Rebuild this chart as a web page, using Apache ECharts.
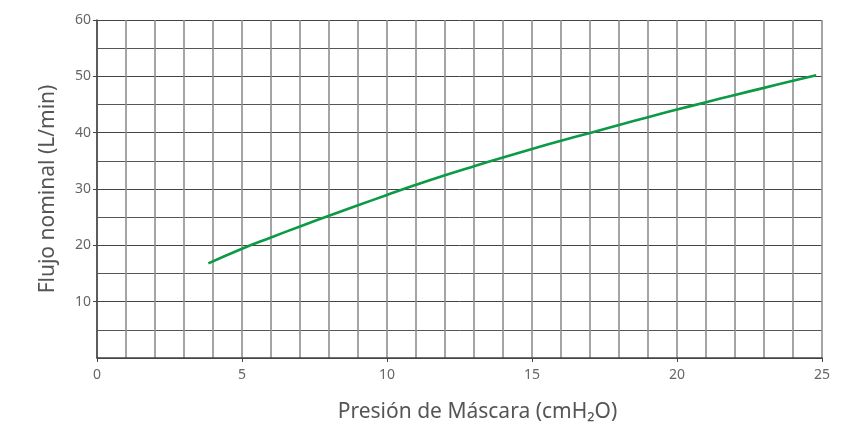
<!DOCTYPE html>
<html>
<head>
<meta charset="utf-8">
<script src="https://cdn.jsdelivr.net/npm/echarts@6/dist/echarts.min.js"></script>
<style>html,body{margin:0;padding:0;background:#fff}#c{width:863px;height:430px}</style>
</head>
<body>
<div id="c"></div>
<script>
const pressure = [3.84, 5, 6, 7, 8, 9, 10, 11, 12, 13, 14, 15, 16, 17, 18, 19, 20, 21, 22, 23, 24, 24.8];
const flow = [16.8, 19.4, 21.4, 23.35, 25.25, 27.1, 28.95, 30.75, 32.45, 34.05, 35.6, 37.1, 38.55, 39.95, 41.35, 42.75, 44.1, 45.4, 46.7, 47.95, 49.2, 50.2];
const xName = 'Presión de Máscara (cmH₂O)';
const yName = 'Flujo nominal (L/min)';

const chart = echarts.init(document.getElementById('c'));
chart.setOption({
  animation: false,
  grid: { left: 97, right: 41, top: 20, bottom: 72 },
  xAxis: {
    type: 'value', min: 0, max: 25, interval: 5,
    name: xName, nameLocation: 'middle', nameGap: 44,
    nameTextStyle: { fontFamily: 'Noto Sans', fontSize: 21, color: '#555', padding: [0, 0, 0, 36] },
    axisLine: { show: true, lineStyle: { color: '#444', width: 1.5 } },
    axisTick: { show: true, length: 4, lineStyle: { color: '#444' } },
    axisLabel: { margin: 10, fontFamily: 'Noto Sans', fontSize: 14, color: '#666' },
    splitLine: { show: true, lineStyle: { color: '#8f8f8f', width: 1.6 } },
    minorTick: { show: false, splitNumber: 5 },
    minorSplitLine: { show: true, lineStyle: { color: '#8f8f8f', width: 1.6 } }
  },
  yAxis: {
    type: 'value', min: 0, max: 60, interval: 10,
    name: yName, nameLocation: 'middle', nameGap: 38,
    nameTextStyle: { fontFamily: 'Noto Sans', fontSize: 21, color: '#555' },
    axisLine: { show: true, lineStyle: { color: '#444', width: 1.5 } },
    axisTick: { show: true, length: 4, lineStyle: { color: '#444' } },
    axisLabel: { showMinLabel: false, margin: 6, fontFamily: 'Noto Sans', fontSize: 14, color: '#666' },
    splitLine: { show: true, lineStyle: { color: '#444', width: 1 } },
    minorTick: { show: false, splitNumber: 2 },
    minorSplitLine: { show: true, lineStyle: { color: '#555', width: 1 } }
  },
  series: [{
    type: 'line', smooth: true, symbol: 'none',
    data: pressure.map((p, i) => [p, flow[i]]),
    lineStyle: { color: '#0c9a46', width: 2.6 }
  }]
});
</script>
</body>
</html>
